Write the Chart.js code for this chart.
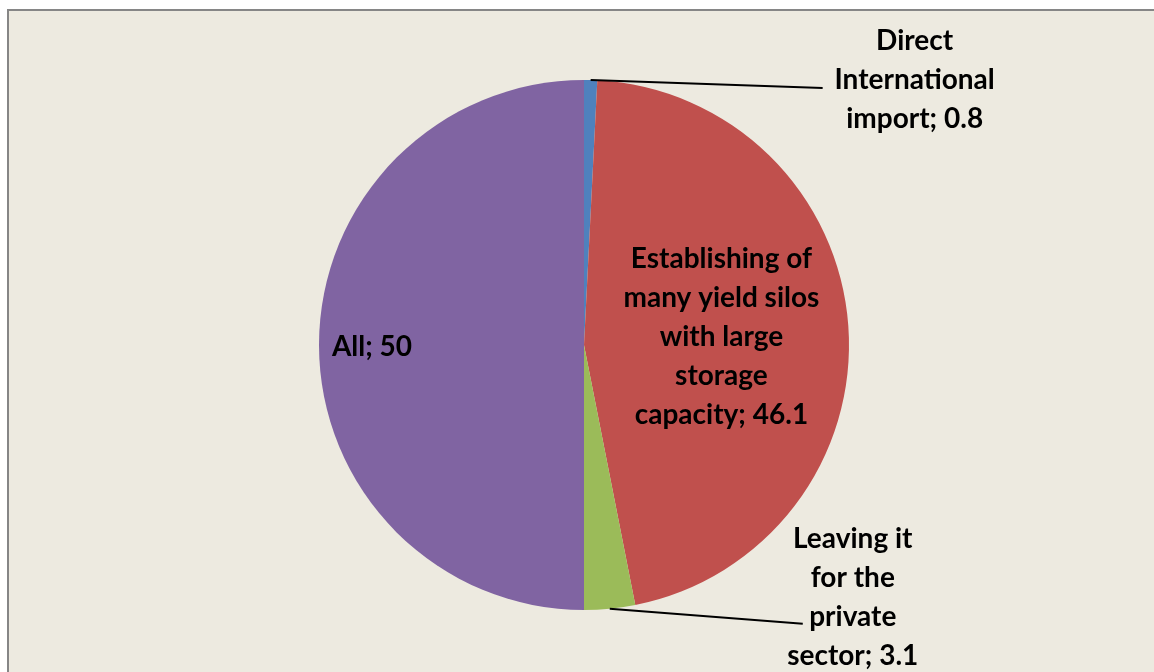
<!DOCTYPE html>
<html>
<head>
<meta charset="utf-8">
<script src="https://cdn.jsdelivr.net/npm/chart.js@4.4.1/dist/chart.umd.min.js"></script>
<style>
  html, body { margin: 0; padding: 0; background: #ffffff; overflow: hidden; }
  #frame {
    position: absolute; left: 7px; top: 9px;
    width: 1147px; height: 663px;
    border-left: 2px solid #868686; border-top: 2px solid #868686;
    background: #edeae0;
  }
  #wrap { position: absolute; left: 0; top: 0; width: 1145px; height: 661px; }
</style>
</head>
<body>
<div id="frame"><div id="wrap"><canvas id="pieChart"></canvas></div></div>
<script>
// === data ===
const categories = [
    "Direct International import",
    "Establishing of many yield silos with large storage capacity",
    "Leaving it for the private sector",
    "All"
];
const values = [0.8, 46.1, 3.1, 50];
const colors = ["#4f81bd", "#c0504d", "#9bbb59", "#8064a2"];

// label lines as shown on the chart (text wraps like the original)
const labelLines = [
    ["Direct", "International", "import; 0.8"],
    ["Establishing of", "many yield silos", "with large", "storage", "capacity; 46.1"],
    ["Leaving it", "for the", "private", "sector; 3.1"],
    ["All; 50"]
];

// placement: inside labels sit at a fraction of the radius, outside ones get a leader line
const labelPlace = [
    { outside: true, endDx: 232, endDy: 8, textDx: 92, textDy: -8 },
    { outside: false, frac: 0.52 },
    { outside: true, endDx: 193, endDy: 15, textDx: 50, textDy: -26 },
    { outside: false, frac: 0.80 }
];

const LINE_H = 39;
const FONT = "bold 28px Lato";

// === draws the data labels and leader lines ===
const pieLabels = {
    id: "pieLabels",
    afterDatasetsDraw(chart) {
        const ctx = chart.ctx;
        const meta = chart.getDatasetMeta(0);
        ctx.save();
        ctx.font = FONT;
        ctx.fillStyle = "#000";
        ctx.textAlign = "center";
        ctx.textBaseline = "middle";
        meta.data.forEach((arc, i) => {
            const p = arc.getProps(["x", "y", "startAngle", "endAngle", "outerRadius"], true);
            const mid = (p.startAngle + p.endAngle) / 2;
            const place = labelPlace[i];
            const lines = labelLines[i];
            let cx, cy;
            if (place.outside) {
                const ex = p.x + Math.cos(mid) * p.outerRadius;
                const ey = p.y + Math.sin(mid) * p.outerRadius;
                const lx = ex + place.endDx;
                const ly = ey + place.endDy;
                ctx.strokeStyle = "#000";
                ctx.lineWidth = 2;
                ctx.beginPath();
                ctx.moveTo(ex, ey);
                ctx.lineTo(lx, ly);
                ctx.stroke();
                cx = lx + place.textDx;
                cy = ly + place.textDy;
            } else {
                const r = p.outerRadius * place.frac;
                cx = p.x + Math.cos(mid) * r;
                cy = p.y + Math.sin(mid) * r + 2;
            }
            const top = cy - (lines.length - 1) * LINE_H / 2;
            lines.forEach((t, k) => ctx.fillText(t, cx, top + k * LINE_H));
        });
        ctx.restore();
    }
};

const pieCtx = document.getElementById("pieChart").getContext("2d");
new Chart(pieCtx, {
    type: "pie",
    data: {
        labels: categories,
        datasets: [{
            data: values,
            backgroundColor: colors,
            borderWidth: 0,
        }, ],
    },
    options: {
        responsive: true,
        maintainAspectRatio: false,
        animation: false,
        layout: {
            padding: { top: 69, bottom: 62, left: 310, right: 305 },
        },
        plugins: {
            legend: { display: false },
            tooltip: { enabled: false },
        },
    },
    plugins: [pieLabels],
});
</script>
</body>
</html>
